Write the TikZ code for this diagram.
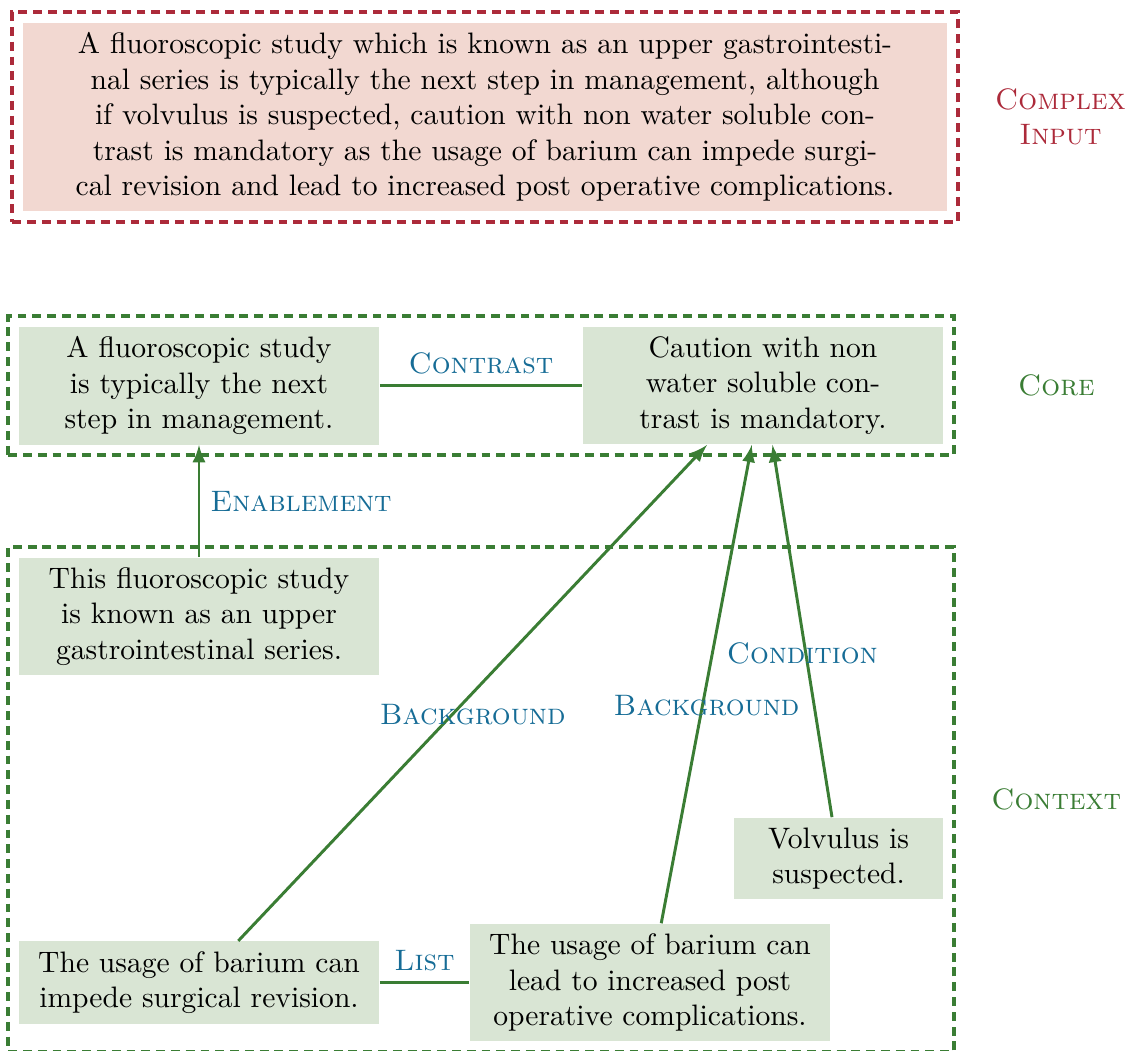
\documentclass[tikz,border=0pt]{standalone}
\usepackage{amsmath}
\usetikzlibrary{positioning, fit}

\definecolor{inred}{RGB}{172,42,58}
\definecolor{inredfill}{RGB}{242,216,209}
\definecolor{dgreen}{RGB}{58,125,52}
\definecolor{dgreenfill}{RGB}{217,229,212}
\definecolor{relblue}{RGB}{22,108,150}

\tikzset{
    edu/.style={fill=dgreenfill, text width=4.05cm, align=center},
    grp/.style={draw, densely dashed, line width=1.4pt},
    rel/.style={text=relblue, font=\scshape},
    link/.style={draw=dgreen, line width=1pt},
    tag/.style={font=\scshape, text width=2cm, align=center},
}

\begin{document}
\begin{tikzpicture}
    \useasboundingbox (0,0) rectangle (13.40,-12.474);
    \node[fill=inredfill, text width=10.75cm, align=center] (input) at (5.762,-1.390) {A fluoroscopic study which is known as an upper gastrointesti-\\nal series is typically the next step in management, although\\if volvulus is suspected, caution with non water soluble con-\\trast is mandatory as the usage of barium can impede surgi-\\cal revision and lead to increased post operative complications.};
    \node[grp, draw=inred, fit=(input)] (inputbox) {};
    \node[tag, text=inred, right=2pt of inputbox] {Complex Input};

    \node[edu] (core1) at (2.364,-4.580) {A fluoroscopic study is typically the next step in management.};
    \node[edu] (core2) at (9.064,-4.580) {Caution with non water soluble contrast is mandatory.};
    \node[grp, draw=dgreen, fit=(core1) (core2)] (corebox) {};
    \node[tag, text=dgreen, right=2pt of corebox] {Core};

    \node[edu] (ctx1) at (2.364,-7.324) {This fluoroscopic study is known as an upper gastrointestinal series.};
    \node[edu] (ctx2) at (2.364,-11.672) {The usage of barium can impede surgical revision.};
    \node[edu] (ctx3) at (7.722,-11.672) {The usage of barium can lead to increased post operative complications.};
    \node[edu, text width=2.25cm] (ctx4) at (9.962,-10.199) {Volvulus is suspected.};
    \node[grp, draw=dgreen, fit=(ctx1) (ctx2) (ctx3) (ctx4)] (ctxbox) {};
    \node[tag, text=dgreen, right=2pt of ctxbox] {Context};

    % relations
    \draw[link] (core1) -- node[rel, above] {Contrast} (core2);
    \draw[link, -latex] (ctx1) -- node[rel, right] {Enablement} (core1);
    \draw[link, -latex] (ctx2) -- node[rel, below] {Background} (core2);
    \draw[link, -latex] (ctx3) -- node[rel, below] {Background} (core2);
    \draw[link, -latex] (ctx4) -- node[rel, below] {Condition} (core2);
    \draw[link] (ctx2) -- node[rel, above] {List} (ctx3);
\end{tikzpicture}
\end{document}
